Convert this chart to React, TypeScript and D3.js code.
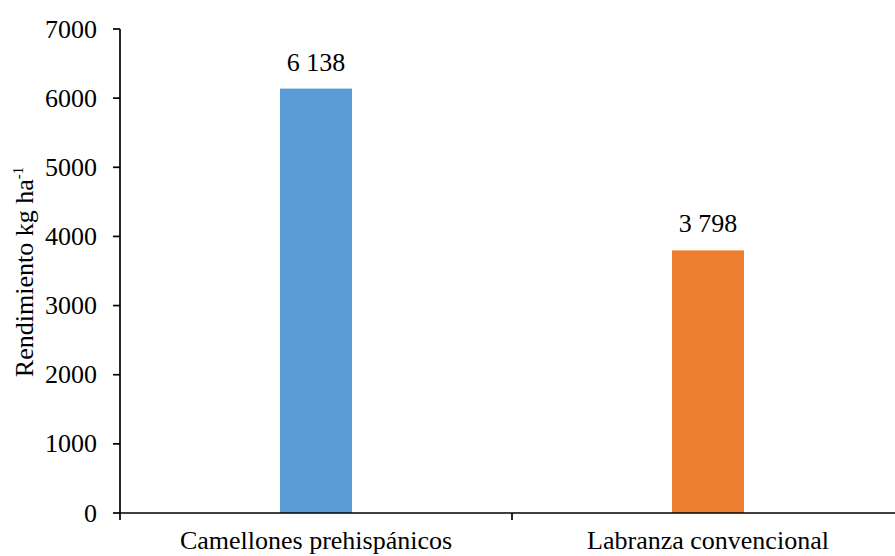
import React from "react";
import * as d3 from "d3";

const categories = ["Camellones prehispánicos", "Labranza convencional"];
const values = [6138, 3798];
const valueLabels = ["6 138", "3 798"];
const colors = ["#5B9BD5", "#ED7D31"];
const yTicks = [0, 1000, 2000, 3000, 4000, 5000, 6000, 7000];

export default function App() {
  const W = 895, H = 556;
  const left = 120, right = 904, top = 29, bottom = 513;
  const x = d3.scaleBand<string>().domain(categories).range([left, right]).paddingInner(0).paddingOuter(0);
  const y = d3.scaleLinear().domain([0, 7000]).range([bottom, top]);
  const barW = 72;
  const fs = 26;
  const ts: React.CSSProperties = { fontFamily: "Liberation Serif" };
  return (
    <svg width={W} height={H} style={{ position: "absolute", left: 0, top: 0 }}>
      <rect width={W} height={H} fill="#fff" />
      {categories.map((c, i) => {
        const cx = x(c)! + x.bandwidth() / 2;
        return (
          <g key={c}>
            <rect x={cx - barW / 2} y={y(values[i])} width={barW} height={bottom - y(values[i])} fill={colors[i]} />
            <text x={cx} y={y(values[i]) - 18} textAnchor="middle" fontSize={fs} fill="#000" style={ts}>{valueLabels[i]}</text>
            <text x={cx} y={bottom + 36} textAnchor="middle" fontSize={fs} fill="#000" style={ts}>{c}</text>
          </g>
        );
      })}
      <line x1={left} x2={left} y1={top} y2={bottom} stroke="#000" strokeWidth={1.7} />
      <line x1={left} x2={W + 10} y1={bottom} y2={bottom} stroke="#000" strokeWidth={1.7} />
      {yTicks.map((t) => (
        <g key={t}>
          <line x1={left - 7} x2={left} y1={y(t)} y2={y(t)} stroke="#000" strokeWidth={1.7} />
          <text x={97} y={y(t)} dy="0.33em" textAnchor="end" fontSize={fs} fill="#000" style={ts}>{t}</text>
        </g>
      ))}
      {[left, x(categories[1])!, right].map((t, i) => (
        <line key={i} x1={t} x2={t} y1={bottom} y2={bottom + 7} stroke="#000" strokeWidth={1.7} />
      ))}
      <text transform={`translate(33, 272) rotate(-90)`} textAnchor="middle" fontSize={fs} fill="#000" style={ts}>
        Rendimiento kg ha<tspan dy="-10" fontSize={15}>-1</tspan>
      </text>
    </svg>
  );
}
